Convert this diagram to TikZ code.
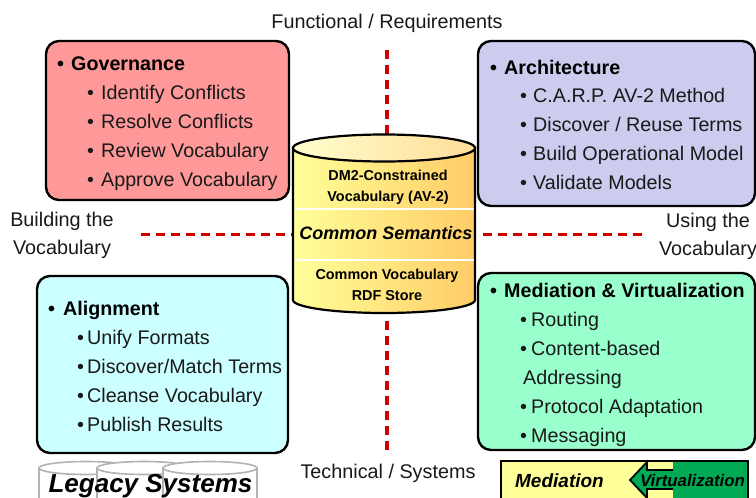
\documentclass[tikz,border=0pt]{standalone}
\usepackage{fontspec}
\setmainfont{Liberation Sans}
\usetikzlibrary{positioning}

\definecolor{govfill}{HTML}{FF9999}
\definecolor{archfill}{HTML}{CCCCEE}
\definecolor{alignfill}{HTML}{CCFFFF}
\definecolor{medfill}{HTML}{99FFCC}
\definecolor{dbleft}{HTML}{FFFF99}
\definecolor{dbright}{HTML}{FFCC66}
\definecolor{capleft}{HTML}{FFFFCC}
\definecolor{capright}{HTML}{FFDD99}
\definecolor{axisred}{HTML}{CC0000}
\definecolor{virtgreen}{HTML}{00AA55}

\newcommand{\bul}[2]{\makebox[#1][l]{\textbullet}#2}

\tikzset{
  quad/.style={draw=black,line width=2.4pt,rounded corners=13pt},
  head/.style={anchor=base west,inner sep=0pt,font=\fontsize{19.7}{20}\selectfont\bfseries},
  item/.style={anchor=base west,inner sep=0pt,font=\fontsize{19.7}{20}\selectfont,text=black!90},
  side/.style={inner sep=0pt,font=\fontsize{19.8}{28}\selectfont,align=center,text=black!90},
  axis/.style={draw=axisred,line width=3pt,dash pattern=on 9pt off 6pt},
  axisv/.style={axis,line width=3.8pt},
  dbtext/.style={inner sep=0pt,font=\fontsize{14.4}{21.5}\selectfont\bfseries,align=center},
  legacy/.style={draw=black!30,line width=1.6pt,fill=white}
}

\begin{document}
\begin{tikzpicture}[x=1pt,y=-1pt]
    \useasboundingbox (0,0) rectangle (756,498);
    \clip (0,0) rectangle (756,498);

    % four quadrants
    \node[quad,fill=govfill,minimum width=243pt,minimum height=159pt] (gov) at (167.5,120.5) {};
    \node[quad,fill=archfill,minimum width=277pt,minimum height=165pt] (arch) at (616.5,123.5) {};
    \node[quad,fill=alignfill,minimum width=251pt,minimum height=177pt] (align) at (162.5,364.5) {};
    \node[quad,fill=medfill,minimum width=277pt,minimum height=177pt] (med) at (616.5,361.5) {};

    % axes
    \node[inner sep=0pt,minimum width=182pt,minimum height=178pt] (db) at (384,224) {};
    \coordinate (n) at (387,50);
    \coordinate (s) at (387,450);
    \coordinate (w) at (141,234);
    \coordinate (e) at (642,234);
    \draw[axisv] (n) -- (n |- db.north);
    \draw[axisv,shorten >=2pt] (s) -- (s |- db.south);
    \draw[axis] (w) -- (w -| db.west);
    \draw[axis,shorten >=4pt] (e) -- (e -| db.east);

    % store
    \draw[line width=2.2pt,left color=dbleft,middle color=dbleft!70!dbright,right color=dbright]
        (293,148) -- (293,300) arc[start angle=180,end angle=0,x radius=91,y radius=13]
        -- (475,148) -- cycle;
    \draw[line width=2.2pt,left color=capleft,right color=capright]
        (384,148) ellipse[x radius=91,y radius=13.5];
    \draw[white,line width=1.6pt] (294.5,209) -- (473.5,209) (294.5,260) -- (473.5,260);
    \node[dbtext] (db_top) at (388,187.5) {DM2-Constrained\\Vocabulary (AV-2)};
    \node[inner sep=0pt,font=\fontsize{18}{18}\selectfont\bfseries\itshape] (db_mid) at (386,233) {Common Semantics};
    \node[dbtext] (db_low) at (387,285) {Common Vocabulary\\RDF Store};

    \node[side] (l_n) at (387,23) {Functional / Requirements};
    \node[side] (l_s) at (388,473) {Technical / Systems};
    \node[side] (l_w) at (62,235) {Building the\\Vocabulary};
    \node[side] (l_e) at (708,236) {Using the\\Vocabulary};

    % quadrant texts
    \node[head] (gov_0) at (57,70) {\bul{14pt}{Governance}};
    \foreach \txt [count=\i] in {Identify Conflicts,Resolve Conflicts,Review Vocabulary,Approve Vocabulary}
        \node[item] (gov_\i) at (87,70+29*\i) {\bul{14pt}{\txt}};

    \node[head] (arch_0) at (490,74) {\bul{14pt}{Architecture}};
    \foreach \txt [count=\i] in {C.A.R.P. AV-2 Method,Discover / Reuse Terms,Build Operational Model,Validate Models}
        \node[item] (arch_\i) at (520,73+29*\i) {\bul{13pt}{\txt}};

    \node[head] (align_0) at (48,315) {\bul{15pt}{Alignment}};
    \foreach \txt [count=\i] in {Unify Formats,Discover/Match Terms,Cleanse Vocabulary,Publish Results}
        \node[item] (align_\i) at (77,315+29*\i) {\bul{10pt}{\txt}};

    \node[head] (med_0) at (490,297) {\bul{14pt}{Mediation \& Virtualization}};
    \node[item] (med_1) at (520,326) {\bul{11pt}{Routing}};
    \node[item] (med_2) at (520,355) {\bul{11pt}{Content-based}};
    \node[item] (med_3) at (523,384) {Addressing};
    \node[item] (med_4) at (520,413) {\bul{11pt}{Protocol Adaptation}};
    \node[item] (med_5) at (520,442) {\bul{11pt}{Messaging}};

    % legacy systems
    \foreach \x in {86,144,210}{
        \draw[legacy] (\x-47,468) -- (\x-47,510) -- (\x+47,510) -- (\x+47,468) -- cycle;
        \draw[legacy] (\x,468) ellipse[x radius=47,y radius=6.5];
    }
    \node[inner sep=0pt,font=\fontsize{26}{26}\selectfont\bfseries\itshape] (legacy) at (150.5,486) {Legacy Systems};

    % mediation bar
    \fill[dbleft] (501,461) rectangle (673,500);
    \fill[virtgreen] (673,461) rectangle (748,500);
    \draw[line width=1.8pt] (501,461) rectangle (748,500);
    \node[inner sep=0pt,font=\fontsize{19}{19}\selectfont\bfseries\itshape] (bar_m) at (559.5,481) {Mediation};
    \draw[line width=1.8pt,fill=virtgreen] (673,470) -- (647,470) -- (647,462) -- (630,480)
        -- (647,498) -- (647,489) -- (673,489);
    \node[inner sep=0pt,font=\fontsize{16.8}{17}\selectfont\bfseries\itshape] (bar_v) at (692.5,480) {Virtualization};
\end{tikzpicture}
\end{document}
